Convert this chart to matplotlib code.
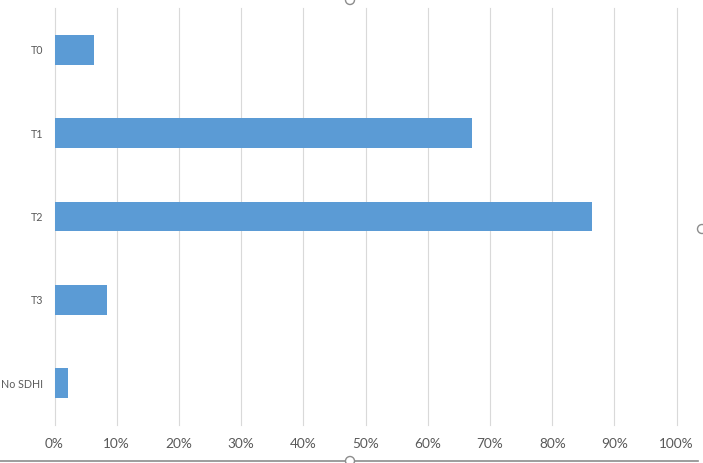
import matplotlib
matplotlib.use("Agg")
import matplotlib.pyplot as plt
from matplotlib.ticker import PercentFormatter
from matplotlib.patches import Circle
from matplotlib.lines import Line2D

categories = ["T0", "T1", "T2", "T3", "No SDHI"]
values = [6.35, 67.05, 86.4, 8.45, 2.15]
xticks = [0, 10, 20, 30, 40, 50, 60, 70, 80, 90, 100]

W, H = 703, 463
fig = plt.figure(figsize=(W / 100, H / 100), dpi=100)
fig.patch.set_facecolor("white")

# axes box in pixel coords (left, top, right, bottom)
l, t, r, b = 54.5, 8, 676.7, 425
ax = fig.add_axes([l / W, 1 - b / H, (r - l) / W, (b - t) / H])

ypos = list(range(len(categories)))
ax.barh(ypos, values, height=0.355, color="#5B9BD5", zorder=3)
ax.set_ylim(len(categories) - 0.5, -0.5)
ax.set_xlim(0, 100)

ax.set_yticks(ypos)
ax.set_yticklabels(categories, fontsize=7.7, color="#595959", family=["Lato", "DejaVu Sans"])
ax.set_xticks(xticks)
ax.xaxis.set_major_formatter(PercentFormatter(decimals=0))
for lab in ax.get_xticklabels():
    lab.set_fontsize(9.8)
    lab.set_color("#595959")
    lab.set_family(["Lato", "DejaVu Sans"])

ax.tick_params(axis="both", length=0)
ax.tick_params(axis="y", pad=8)
ax.tick_params(axis="x", pad=9)
ax.grid(axis="x", color="#d9d9d9", linewidth=0.8, zorder=0)
for gl in ax.get_xgridlines():
    gl.set_clip_on(False)
for s in ax.spines.values():
    s.set_visible(False)

# chart-area frame and selection handles
fig.add_artist(Line2D([0, 698 / W], [1 - 461 / H, 1 - 461 / H], transform=fig.transFigure,
                      color="#8c8c8c", linewidth=1.2))
for (hx, hy) in [(350, 0), (350, 461), (702, 229)]:
    fig.add_artist(Circle((hx, H - hy), 4.5, transform=None, facecolor="white",
                          edgecolor="#8c8c8c", linewidth=1.0, zorder=10))

fig.savefig("out.png", dpi=100)
